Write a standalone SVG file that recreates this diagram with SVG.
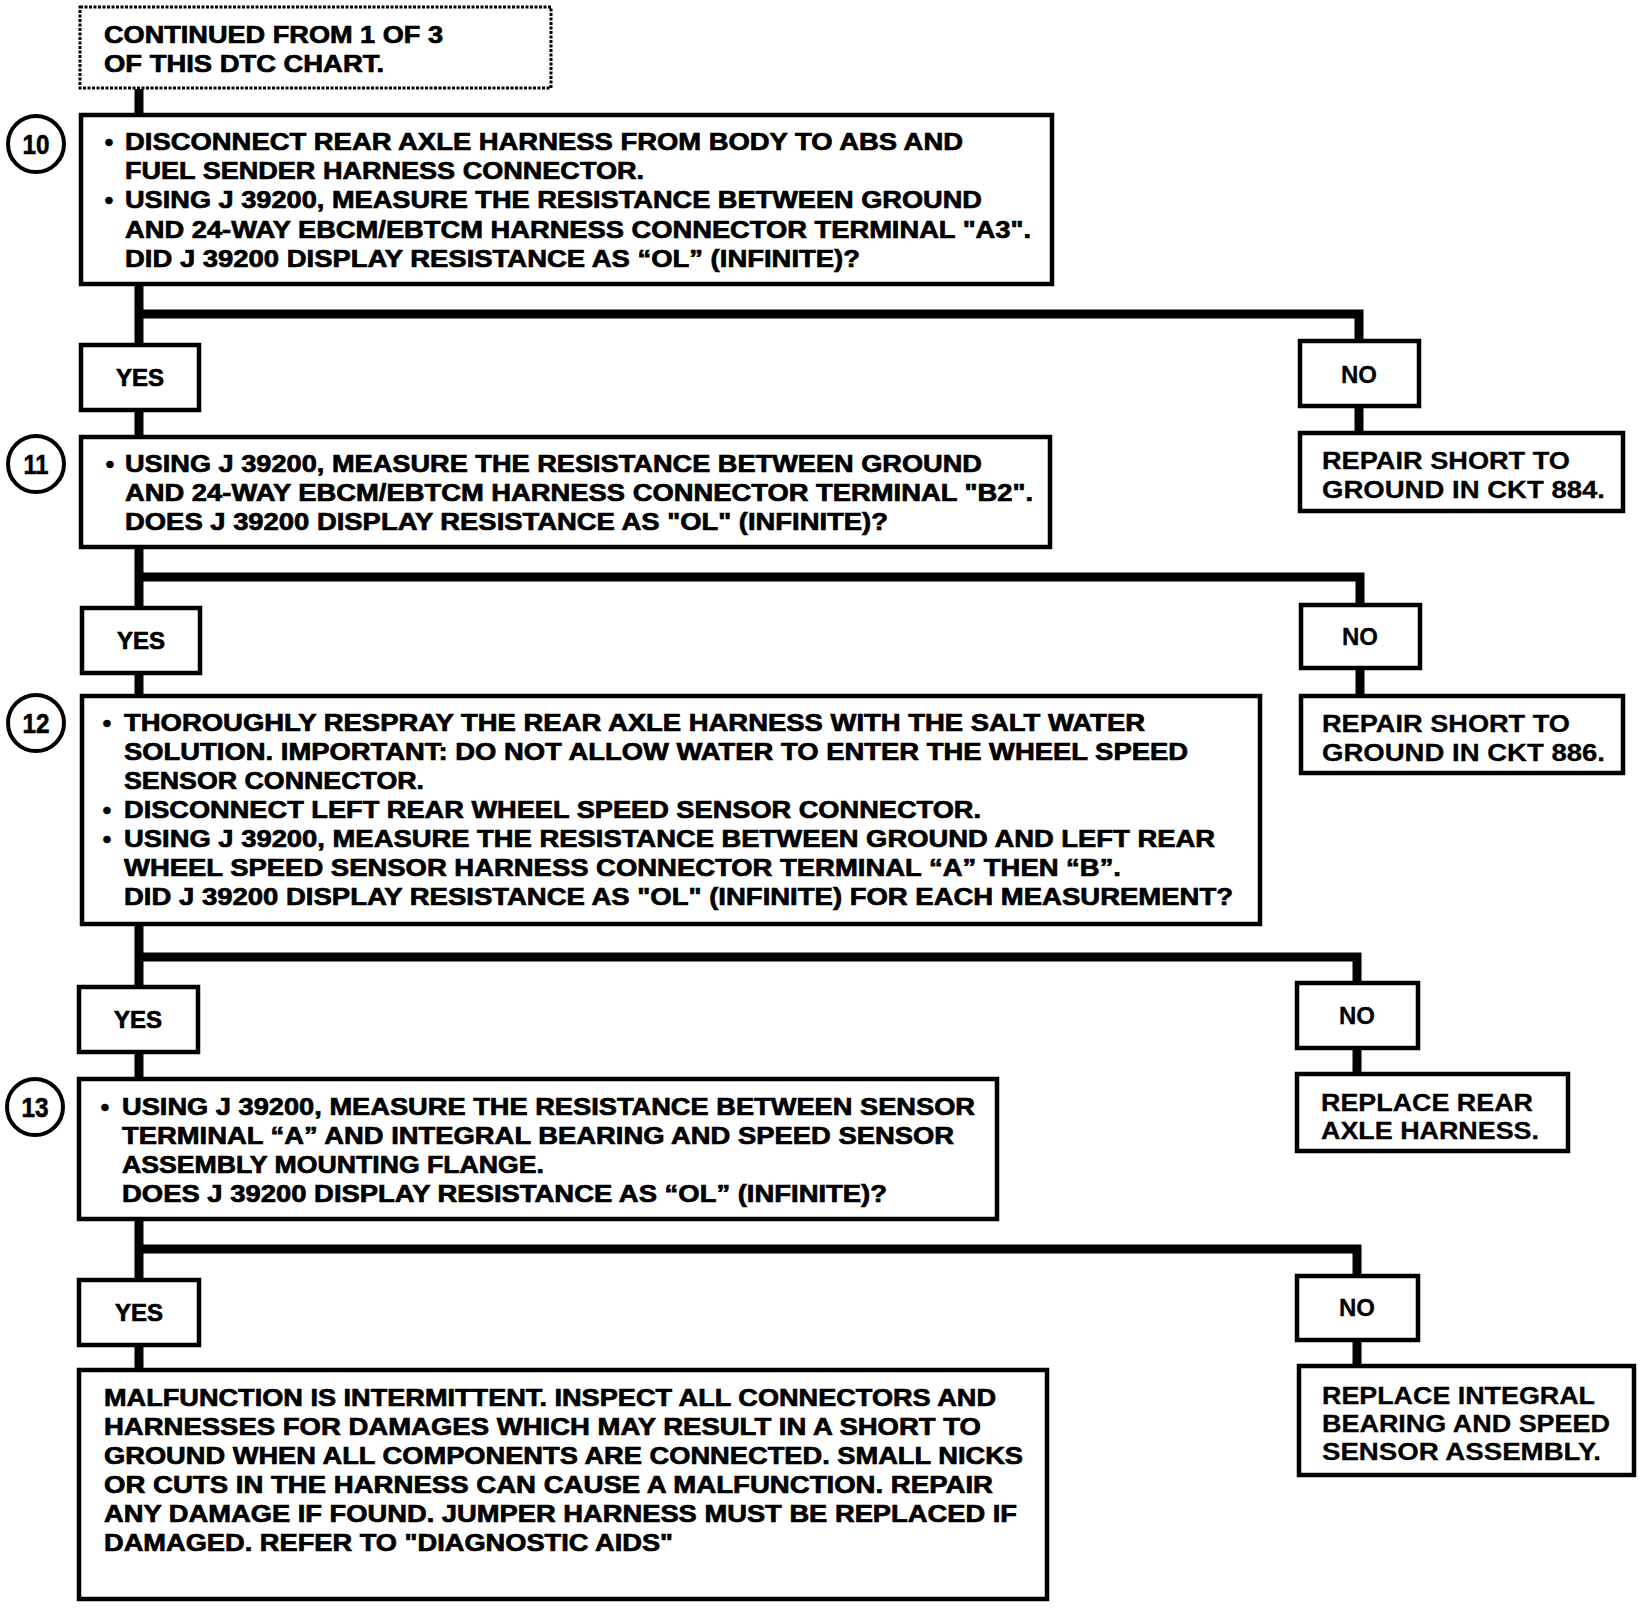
<svg xmlns="http://www.w3.org/2000/svg" width="1648" height="1608" viewBox="0 0 1648 1608">
<style>
.bg{fill:#fff}
.box{fill:#fff;stroke:#000;stroke-width:4.5}
.dot{fill:#fff;stroke:#000;stroke-width:3;stroke-dasharray:3 1.5}
.num{fill:#fff;stroke:#000;stroke-width:4}
.t{font-family:"Liberation Sans",Arial,sans-serif;font-weight:bold;font-size:24px;fill:#000;stroke:#000;stroke-width:0.7}
.r{stroke-width:0.3}
.c{text-anchor:middle}
.n{font-family:"Liberation Sans",Arial,sans-serif;font-weight:bold;font-size:27px;fill:#000;stroke:#000;stroke-width:0.6;text-anchor:middle}
.con{fill:none;stroke:#000;stroke-width:9;stroke-linejoin:miter}
</style>
<rect class="bg" x="0" y="0" width="1648" height="1608"/>
<g id="connectors">
<path class="con" d="M139 89V113M139 286V343M139 412V435M139 549V606M139 675V694M139 926V985M139 1054V1077M139 1221V1278M139 1347V1368"/>
<path class="con" d="M139 314H1359V339M1359 408V431"/>
<path class="con" d="M139 577H1360V603M1360 670V694"/>
<path class="con" d="M139 957H1357V981M1357 1050V1072"/>
<path class="con" d="M139 1249H1357V1274M1357 1342V1364"/>
</g>
<g id="start">
<rect class="dot" x="80" y="7" width="471" height="81"/>
<text class="t" x="104" y="43" textLength="339" lengthAdjust="spacingAndGlyphs">CONTINUED FROM 1 OF 3</text>
<text class="t" x="104" y="72" textLength="280" lengthAdjust="spacingAndGlyphs">OF THIS DTC CHART.</text>
</g>
<g id="step10">
<circle class="num" cx="36" cy="144" r="28"/>
<text class="n" x="36" y="154" textLength="27" lengthAdjust="spacingAndGlyphs">10</text>
<rect class="box" x="81" y="115" width="971" height="169"/>
<text class="t c" x="109" y="150">•</text>
<text class="t" x="125" y="150" textLength="838" lengthAdjust="spacingAndGlyphs">DISCONNECT REAR AXLE HARNESS FROM BODY TO ABS AND</text>
<text class="t" x="125" y="179" textLength="519" lengthAdjust="spacingAndGlyphs">FUEL SENDER HARNESS CONNECTOR.</text>
<text class="t c" x="109" y="208">•</text>
<text class="t" x="125" y="208" textLength="857" lengthAdjust="spacingAndGlyphs">USING J 39200, MEASURE THE RESISTANCE BETWEEN GROUND</text>
<text class="t" x="125" y="238" textLength="906" lengthAdjust="spacingAndGlyphs">AND 24-WAY EBCM/EBTCM HARNESS CONNECTOR TERMINAL "A3".</text>
<text class="t" x="125" y="267" textLength="735" lengthAdjust="spacingAndGlyphs">DID J 39200 DISPLAY RESISTANCE AS “OL” (INFINITE)?</text>
</g>
<g id="yes10">
<rect class="box" x="81" y="345" width="118" height="65"/>
<text class="t c" x="140" y="386">YES</text>
</g>
<g id="no10">
<rect class="box" x="1300" y="341" width="119" height="65"/>
<text class="t r c" x="1359" y="383">NO</text>
</g>
<g id="repair884">
<rect class="box" x="1300" y="433" width="323" height="78"/>
<text class="t r" x="1322" y="469" textLength="248" lengthAdjust="spacingAndGlyphs">REPAIR SHORT TO</text>
<text class="t r" x="1322" y="498" textLength="283" lengthAdjust="spacingAndGlyphs">GROUND IN CKT 884.</text>
</g>
<g id="step11">
<circle class="num" cx="36" cy="464" r="28"/>
<text class="n" x="36" y="474" textLength="25" lengthAdjust="spacingAndGlyphs">11</text>
<rect class="box" x="81" y="437" width="969" height="110"/>
<text class="t c" x="110" y="472">•</text>
<text class="t" x="125" y="472" textLength="857" lengthAdjust="spacingAndGlyphs">USING J 39200, MEASURE THE RESISTANCE BETWEEN GROUND</text>
<text class="t" x="125" y="501" textLength="908" lengthAdjust="spacingAndGlyphs">AND 24-WAY EBCM/EBTCM HARNESS CONNECTOR TERMINAL "B2".</text>
<text class="t" x="125" y="530" textLength="763" lengthAdjust="spacingAndGlyphs">DOES J 39200 DISPLAY RESISTANCE AS "OL" (INFINITE)?</text>
</g>
<g id="yes11">
<rect class="box" x="82" y="608" width="118" height="65"/>
<text class="t c" x="141" y="649">YES</text>
</g>
<g id="no11">
<rect class="box" x="1301" y="605" width="119" height="63"/>
<text class="t r c" x="1360" y="645">NO</text>
</g>
<g id="repair886">
<rect class="box" x="1301" y="696" width="322" height="77"/>
<text class="t r" x="1322" y="732" textLength="248" lengthAdjust="spacingAndGlyphs">REPAIR SHORT TO</text>
<text class="t r" x="1322" y="761" textLength="283" lengthAdjust="spacingAndGlyphs">GROUND IN CKT 886.</text>
</g>
<g id="step12">
<circle class="num" cx="36" cy="723" r="28"/>
<text class="n" x="36" y="733" textLength="27" lengthAdjust="spacingAndGlyphs">12</text>
<rect class="box" x="82" y="696" width="1178" height="228"/>
<text class="t c" x="107" y="731">•</text>
<text class="t" x="124" y="731" textLength="1021" lengthAdjust="spacingAndGlyphs">THOROUGHLY RESPRAY THE REAR AXLE HARNESS WITH THE SALT WATER</text>
<text class="t" x="124" y="760" textLength="1064" lengthAdjust="spacingAndGlyphs">SOLUTION. IMPORTANT: DO NOT ALLOW WATER TO ENTER THE WHEEL SPEED</text>
<text class="t" x="124" y="789" textLength="300" lengthAdjust="spacingAndGlyphs">SENSOR CONNECTOR.</text>
<text class="t c" x="107" y="818">•</text>
<text class="t" x="124" y="818" textLength="857" lengthAdjust="spacingAndGlyphs">DISCONNECT LEFT REAR WHEEL SPEED SENSOR CONNECTOR.</text>
<text class="t c" x="107" y="847">•</text>
<text class="t" x="124" y="847" textLength="1091" lengthAdjust="spacingAndGlyphs">USING J 39200, MEASURE THE RESISTANCE BETWEEN GROUND AND LEFT REAR</text>
<text class="t" x="124" y="876" textLength="997" lengthAdjust="spacingAndGlyphs">WHEEL SPEED SENSOR HARNESS CONNECTOR TERMINAL “A” THEN “B”.</text>
<text class="t" x="124" y="905" textLength="1109" lengthAdjust="spacingAndGlyphs">DID J 39200 DISPLAY RESISTANCE AS "OL" (INFINITE) FOR EACH MEASUREMENT?</text>
</g>
<g id="yes12">
<rect class="box" x="79" y="987" width="119" height="65"/>
<text class="t c" x="138" y="1028">YES</text>
</g>
<g id="no12">
<rect class="box" x="1297" y="983" width="121" height="65"/>
<text class="t r c" x="1357" y="1024">NO</text>
</g>
<g id="replaceHarness">
<rect class="box" x="1297" y="1074" width="271" height="77"/>
<text class="t r" x="1321" y="1111" textLength="212" lengthAdjust="spacingAndGlyphs">REPLACE REAR</text>
<text class="t r" x="1321" y="1139" textLength="218" lengthAdjust="spacingAndGlyphs">AXLE HARNESS.</text>
</g>
<g id="step13">
<circle class="num" cx="35" cy="1107" r="28"/>
<text class="n" x="35" y="1117" textLength="27" lengthAdjust="spacingAndGlyphs">13</text>
<rect class="box" x="79" y="1079" width="918" height="140"/>
<text class="t c" x="105" y="1115">•</text>
<text class="t" x="122" y="1115" textLength="853" lengthAdjust="spacingAndGlyphs">USING J 39200, MEASURE THE RESISTANCE BETWEEN SENSOR</text>
<text class="t" x="122" y="1144" textLength="832" lengthAdjust="spacingAndGlyphs">TERMINAL “A” AND INTEGRAL BEARING AND SPEED SENSOR</text>
<text class="t" x="122" y="1173" textLength="422" lengthAdjust="spacingAndGlyphs">ASSEMBLY MOUNTING FLANGE.</text>
<text class="t" x="122" y="1202" textLength="765" lengthAdjust="spacingAndGlyphs">DOES J 39200 DISPLAY RESISTANCE AS “OL” (INFINITE)?</text>
</g>
<g id="yes13">
<rect class="box" x="79" y="1280" width="120" height="65"/>
<text class="t c" x="139" y="1321">YES</text>
</g>
<g id="no13">
<rect class="box" x="1297" y="1276" width="121" height="64"/>
<text class="t r c" x="1357" y="1316">NO</text>
</g>
<g id="replaceBearing">
<rect class="box" x="1299" y="1366" width="335" height="109"/>
<text class="t r" x="1322" y="1404" textLength="273" lengthAdjust="spacingAndGlyphs">REPLACE INTEGRAL</text>
<text class="t r" x="1322" y="1432" textLength="288" lengthAdjust="spacingAndGlyphs">BEARING AND SPEED</text>
<text class="t r" x="1322" y="1460" textLength="279" lengthAdjust="spacingAndGlyphs">SENSOR ASSEMBLY.</text>
</g>
<g id="intermittent">
<rect class="box" x="79" y="1370" width="968" height="229"/>
<text class="t" x="104" y="1406" textLength="892" lengthAdjust="spacingAndGlyphs">MALFUNCTION IS INTERMITTENT. INSPECT ALL CONNECTORS AND</text>
<text class="t" x="104" y="1435" textLength="877" lengthAdjust="spacingAndGlyphs">HARNESSES FOR DAMAGES WHICH MAY RESULT IN A SHORT TO</text>
<text class="t" x="104" y="1464" textLength="919" lengthAdjust="spacingAndGlyphs">GROUND WHEN ALL COMPONENTS ARE CONNECTED. SMALL NICKS</text>
<text class="t" x="104" y="1493" textLength="889" lengthAdjust="spacingAndGlyphs">OR CUTS IN THE HARNESS CAN CAUSE A MALFUNCTION. REPAIR</text>
<text class="t" x="104" y="1522" textLength="913" lengthAdjust="spacingAndGlyphs">ANY DAMAGE IF FOUND. JUMPER HARNESS MUST BE REPLACED IF</text>
<text class="t" x="104" y="1551" textLength="569" lengthAdjust="spacingAndGlyphs">DAMAGED. REFER TO "DIAGNOSTIC AIDS"</text>
</g>
</svg>
